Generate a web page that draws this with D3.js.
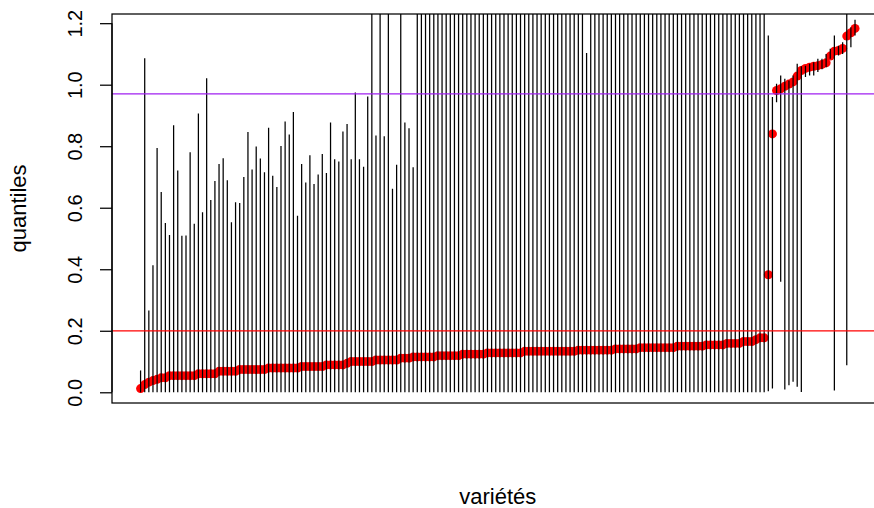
<!DOCTYPE html>
<html>
<head>
<meta charset="utf-8">
<script src="https://cdn.jsdelivr.net/npm/d3@7"></script>
<style>
  html, body { margin: 0; padding: 0; background: #fff; }
  svg { display: block; }
  text { font-family: "Liberation Sans", Arial, Helvetica, sans-serif; fill: #000; }
</style>
</head>
<body>
<svg id="chart" width="874" height="508"></svg>
<script>
// Median quantile per variety, sorted (drawn as red dots)
const medians = [
  0.012, 0.025, 0.033, 0.038, 0.042, 0.047, 0.047,
  0.054, 0.054, 0.054, 0.054, 0.054, 0.054, 0.054,
  0.060, 0.060, 0.060, 0.060, 0.060,
  0.068, 0.068, 0.068, 0.068, 0.068,
  0.074, 0.074, 0.074, 0.074, 0.074, 0.074, 0.074,
  0.079, 0.079, 0.079, 0.079, 0.079, 0.079, 0.079, 0.079,
  0.084, 0.084, 0.084, 0.084, 0.084, 0.084,
  0.089, 0.089, 0.089, 0.089, 0.089, 0.094,
  0.100, 0.100, 0.100, 0.100, 0.100, 0.100,
  0.105, 0.105, 0.105, 0.105, 0.105, 0.105,
  0.111, 0.111, 0.111,
  0.115, 0.115, 0.115, 0.115, 0.115, 0.115,
  0.119, 0.119, 0.119, 0.119, 0.119, 0.119,
  0.124, 0.124, 0.124, 0.124, 0.124, 0.124,
  0.128, 0.128, 0.128, 0.128, 0.128, 0.128, 0.128, 0.128, 0.128,
  0.133, 0.133, 0.133, 0.133, 0.133, 0.133, 0.133, 0.133, 0.133, 0.133, 0.133, 0.133, 0.133,
  0.137, 0.137, 0.137, 0.137, 0.137, 0.137, 0.137, 0.137, 0.137,
  0.141, 0.141, 0.141, 0.141, 0.141, 0.141,
  0.145, 0.145, 0.145, 0.145, 0.145, 0.145, 0.145, 0.145, 0.145,
  0.150, 0.150, 0.150, 0.150, 0.150, 0.150, 0.150,
  0.154, 0.154, 0.154, 0.154, 0.154,
  0.159, 0.159, 0.159, 0.159,
  0.165, 0.165, 0.165, 0.171, 0.177, 0.177,
  0.382, 0.840, 0.981, 0.987, 0.995, 1.002, 1.009, 1.028, 1.046, 1.053,
  1.057, 1.060, 1.062, 1.066, 1.071, 1.093, 1.109, 1.111, 1.118, 1.158,
  1.169, 1.183
];

// Lower quantile per variety (bottom of each vertical segment)
const lowers = [
  0, 0, 0, 0, 0, 0, 0, 0, 0, 0, 0, 0, 0, 0, 0, 0, 0, 0, 0, 0,
  0, 0, 0, 0, 0, 0, 0, 0, 0, 0, 0, 0, 0, 0, 0, 0, 0, 0, 0, 0,
  0, 0, 0, 0, 0, 0, 0, 0, 0, 0, 0, 0, 0, 0, 0, 0, 0, 0, 0, 0,
  0, 0, 0, 0, 0, 0, 0, 0, 0, 0, 0, 0, 0, 0, 0, 0, 0, 0, 0, 0,
  0, 0, 0, 0, 0, 0, 0, 0, 0, 0, 0, 0, 0, 0, 0, 0, 0, 0, 0, 0,
  0, 0, 0, 0, 0, 0, 0, 0, 0, 0, 0, 0, 0, 0, 0, 0, 0, 0, 0, 0,
  0, 0, 0, 0, 0, 0, 0, 0, 0, 0, 0, 0, 0, 0, 0, 0, 0, 0, 0, 0,
  0, 0, 0, 0, 0, 0, 0, 0, 0, 0, 0, 0,
  0.003, 0.012, 0.943, 0.359, 0.009, 0.023, 0.034, 0.018, 0.001, 1.025,
  1.030, 1.030, 1.041, 1.050, 1.057, 1.084, 0.006, 1.095, 1.100, 0.088,
  1.122, 1.160
];

// Upper quantile per variety (top of each vertical segment)
const uppers = [
  0.071, 1.086, 0.266, 0.413, 0.794, 0.651, 0.550, 0.511, 0.868, 0.721,
  0.509, 0.510, 0.780, 0.548, 0.906, 0.585, 1.021, 0.625, 0.687, 0.742,
  0.761, 0.689, 0.553, 0.618, 0.615, 0.700, 0.846, 0.724, 0.799, 0.760,
  0.715, 0.860, 0.704, 0.667, 0.801, 0.880, 0.838, 0.911, 0.574, 0.742,
  0.682, 0.771, 0.677, 0.708, 0.775, 0.713, 0.877, 0.758, 0.750, 0.848,
  0.872, 0.758, 0.975, 0.758, 0.733, 0.962, 1.34, 0.835, 1.52, 0.832,
  1.41, 0.662, 0.740, 1.29, 0.877, 0.858, 0.732, 1.47,
  1.42, 1.36, 1.55, 1.31, 1.48, 1.39, 1.62, 1.33, 1.45, 1.51,
  1.37, 1.58, 1.29, 1.44, 1.66, 1.35, 1.49, 1.41, 1.57, 1.32,
  1.46, 1.53, 1.38, 1.61, 1.34, 1.47, 1.40, 1.56, 1.30, 1.52,
  1.43, 1.59, 1.36, 1.48, 1.64, 1.33, 1.45, 1.39, 1.54, 1.31,
  1.103,
  1.50, 1.42, 1.60, 1.35, 1.47, 1.38, 1.55, 1.32, 1.49, 1.44,
  1.63, 1.37, 1.52, 1.40, 1.58, 1.34, 1.46, 1.41, 1.57, 1.30,
  1.53, 1.45, 1.39, 1.61, 1.36, 1.48, 1.43, 1.56, 1.33, 1.50,
  1.42, 1.59, 1.37, 1.47, 1.65, 1.35, 1.52, 1.44, 1.40, 1.58,
  1.46, 1.38, 1.54,
  1.160, 0.960, 1.003, 1.030, 1.019, 1.014, 1.030, 1.068, 1.060, 1.062,
  1.068, 1.073, 1.084, 1.084, 1.100, 1.117, 1.160, 1.127, 1.138, 1.400,
  1.187, 1.211
];

// Reference thresholds (horizontal lines)
const thresholds = [
  { value: 0.2,  color: "#ff0000" },
  { value: 0.97, color: "#a020f0" }
];

const yTicks = [0.0, 0.2, 0.4, 0.6, 0.8, 1.0, 1.2];
const xTitle = "variétés";
const yTitle = "quantiles";

// ---- layout ----
const plot = { left: 112, top: 14, right: 883.6, bottom: 403 };

const rows = medians.map((m, i) => ({ i: i + 1, med: m, lo: lowers[i], hi: uppers[i] }));
const n = rows.length;

// R-style 4% padding on both axes
const xPad = 0.04 * (n - 1);
const x = d3.scaleLinear()
  .domain([1 - xPad, n + xPad])
  .range([plot.left, plot.right]);

const [mMin, mMax] = d3.extent(medians);
const yPad = 0.04 * (mMax - mMin);
const y = d3.scaleLinear()
  .domain([mMin - yPad, mMax + yPad])
  .range([plot.bottom, plot.top]);

const svg = d3.select("#chart");
svg.append("rect").attr("width", 874).attr("height", 508).attr("fill", "#fff");

svg.append("clipPath").attr("id", "plot-clip")
  .append("rect")
  .attr("x", plot.left).attr("y", plot.top)
  .attr("width", plot.right - plot.left)
  .attr("height", plot.bottom - plot.top);

const g = svg.append("g").attr("clip-path", "url(#plot-clip)");

// median dots
g.append("g")
  .selectAll("circle")
  .data(rows)
  .join("circle")
  .attr("cx", d => x(d.i))
  .attr("cy", d => y(d.med))
  .attr("r", 4.5)
  .attr("fill", "#ff0000");

// quantile ranges
g.append("g")
  .selectAll("line")
  .data(rows)
  .join("line")
  .attr("x1", d => x(d.i)).attr("x2", d => x(d.i))
  .attr("y1", d => y(d.lo)).attr("y2", d => y(d.hi))
  .attr("stroke", "#000")
  .attr("stroke-width", 1.25);

// threshold lines
g.append("g")
  .selectAll("line")
  .data(thresholds)
  .join("line")
  .attr("x1", plot.left).attr("x2", plot.right)
  .attr("y1", d => y(d.value)).attr("y2", d => y(d.value))
  .attr("stroke", d => d.color)
  .attr("stroke-width", 1.25);

// frame
svg.append("rect")
  .attr("x", plot.left).attr("y", plot.top)
  .attr("width", plot.right - plot.left)
  .attr("height", plot.bottom - plot.top)
  .attr("fill", "none")
  .attr("stroke", "#000")
  .attr("stroke-width", 1.25);

// y axis with rotated labels
const yAxis = d3.axisLeft(y)
  .tickValues(yTicks)
  .tickFormat(d3.format(".1f"))
  .tickSize(12)
  .tickPadding(0);

const ax = svg.append("g")
  .attr("transform", `translate(${plot.left},0)`)
  .call(yAxis);

ax.select(".domain")
  .attr("d", `M0,${y(yTicks[0])}V${y(yTicks[yTicks.length - 1])}`)
  .attr("stroke", "#000")
  .attr("stroke-width", 1.25);
ax.selectAll(".tick line").attr("stroke", "#000").attr("stroke-width", 1.25);
ax.selectAll(".tick text")
  .attr("x", null).attr("dy", null)
  .attr("transform", "translate(-30,0) rotate(-90)")
  .attr("text-anchor", "middle")
  .attr("font-size", 20)
  .attr("font-family", "'Liberation Sans', Arial, sans-serif")
  .attr("fill", "#000");

// axis titles
svg.append("text")
  .attr("x", (plot.left + plot.right) / 2)
  .attr("y", 504)
  .attr("text-anchor", "middle")
  .attr("font-size", 22)
  .text(xTitle);

svg.append("text")
  .attr("transform", `translate(26,${(plot.top + plot.bottom) / 2}) rotate(-90)`)
  .attr("text-anchor", "middle")
  .attr("font-size", 22)
  .text(yTitle);
</script>
</body>
</html>
